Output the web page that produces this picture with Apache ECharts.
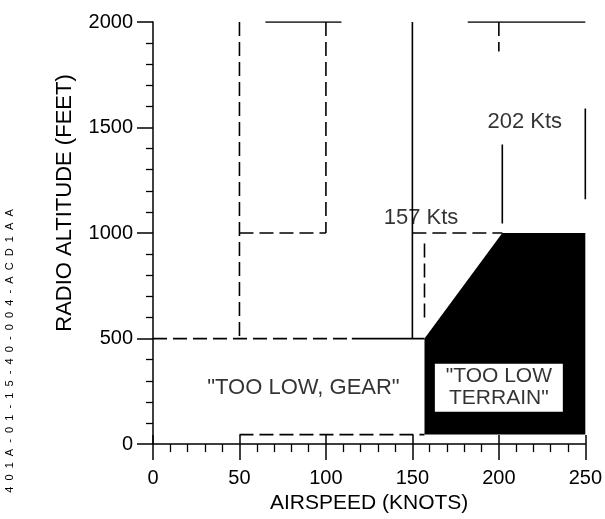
<!DOCTYPE html>
<html>
<head>
<meta charset="utf-8">
<script src="https://cdn.jsdelivr.net/npm/echarts@6/dist/echarts.min.js"></script>
<style>
  html, body { margin: 0; padding: 0; background: #fff; }
  #chart { width: 605px; height: 519px; }
</style>
</head>
<body>
<div id="chart"></div>
<script>
// axis ranges
const xRange = [0, 250];
const yRange = [0, 2000];

// the black "TOO LOW TERRAIN" envelope (knots, feet)
const terrainEnvelope = [[157, 45], [157, 500], [202, 1000], [250, 1000], [250, 45]];
// white label box inside it
const terrainBox = [[163, 381], [237, 153]];

// solid lines of the drawing
const solidLines = [
  [[65, 2000], [109, 2000]],
  [[182, 2000], [250, 2000]],
  [[150, 2000], [150, 500]],
  [[115, 500], [157, 500]],
  [[202, 1420], [202, 1045]],
  [[250, 1590], [250, 1160]]
];

// dashed lines of the drawing
const dashedLines = [
  [[50, 2000], [50, 500]],
  [[100, 2000], [100, 1000]],
  [[50, 1000], [100, 1000]],
  [[150, 1000], [202, 1000]],
  [[200, 2000], [200, 1860]],
  [[157, 950], [157, 580]],
  [[0, 500], [115, 500]],
  [[50, 45], [157, 45]]
];

// text notes
const notes = [
  { value: [215, 1525], text: '202 Kts', size: 22 },
  { value: [155, 1070], text: '157 Kts', size: 22 },
  { value: [87, 265], text: '"TOO LOW, GEAR"', size: 22 },
  { value: [200, 270], text: '"TOO LOW\nTERRAIN"', size: 21 }
];

const font = 'Liberation Sans, Arial, sans-serif';

const chart = echarts.init(document.getElementById('chart'));

const lineSeries = [];
solidLines.forEach(pts => lineSeries.push({
  type: 'line', data: pts, symbol: 'none', silent: true, z: 5,
  lineStyle: { color: '#000', width: 1.6 }
}));
dashedLines.forEach(pts => lineSeries.push({
  type: 'line', data: pts, symbol: 'none', silent: true, z: 5,
  lineStyle: { color: '#000', width: 1.6, type: [14, 6] }
}));

chart.setOption({
  backgroundColor: '#fff',
  animation: false,
  grid: { left: 153, right: 18, top: 22, bottom: 67 },
  xAxis: [{
    type: 'value', min: xRange[0], max: xRange[1], interval: 50,
    name: 'AIRSPEED (KNOTS)', nameLocation: 'middle', nameGap: 46,
    nameTextStyle: { color: '#000', fontSize: 21, fontFamily: font },
    axisLine: { lineStyle: { color: '#000', width: 1.5 } },
    axisTick: { length: 16, lineStyle: { color: '#000', width: 1.5 } },
    minorTick: { show: true, splitNumber: 5, length: 8, lineStyle: { color: '#000', width: 1.3 } },
    axisLabel: { color: '#000', fontSize: 20, fontFamily: font, margin: 24 },
    splitLine: { show: false }
  }, {
    type: 'value', min: xRange[0], max: xRange[1], interval: 50, position: 'bottom',
    axisLine: { show: false },
    axisTick: { inside: true, length: 9, lineStyle: { color: '#000', width: 1.5 } },
    axisLabel: { show: false },
    splitLine: { show: false }
  }],
  yAxis: {
    type: 'value', min: yRange[0], max: yRange[1], interval: 500,
    axisLine: { show: true, lineStyle: { color: '#000', width: 1.5 } },
    axisTick: { show: true, length: 16, lineStyle: { color: '#000', width: 1.5 } },
    minorTick: { show: true, splitNumber: 5, length: 7, lineStyle: { color: '#000', width: 1.3 } },
    axisLabel: { color: '#000', fontSize: 20, fontFamily: font, margin: 20, formatter: v => String(v) },
    splitLine: { show: false }
  },
  graphic: [
    {
      type: 'text', rotation: Math.PI / 2, x: 65, y: 203,
      style: { text: 'RADIO ALTITUDE (FEET)', fill: '#000', font: '22px ' + font, textAlign: 'center', textVerticalAlign: 'middle' }
    },
    {
      type: 'text', rotation: Math.PI / 2, x: 10, y: 351,
      style: { text: '4  0  1  A  -  0  1  -  1  5  -  4  0  -  0  0  4  -  A  C  D  1  A  A', fill: '#000', font: '11px ' + font, textAlign: 'center', textVerticalAlign: 'middle' }
    }
  ],
  series: [
    {
      type: 'custom', silent: true, z: 2,
      data: [0],
      renderItem: function (params, api) {
        return {
          type: 'polygon',
          shape: { points: terrainEnvelope.map(p => api.coord(p)) },
          style: { fill: '#000' }
        };
      }
    },
    {
      type: 'custom', silent: true, z: 3,
      data: [0],
      renderItem: function (params, api) {
        const a = api.coord(terrainBox[0]);
        const b = api.coord(terrainBox[1]);
        return {
          type: 'rect',
          shape: { x: a[0], y: a[1], width: b[0] - a[0], height: b[1] - a[1] },
          style: { fill: '#fff' }
        };
      }
    },
    ...lineSeries,
    {
      type: 'scatter', symbolSize: 0, silent: true, z: 10,
      data: notes.map(n => ({
        value: n.value,
        label: {
          show: true, position: 'inside', formatter: n.text, color: '#000',
          fontSize: n.size, fontFamily: font, lineHeight: 22, align: 'center'
        }
      }))
    }
  ]
});
</script>
</body>
</html>
